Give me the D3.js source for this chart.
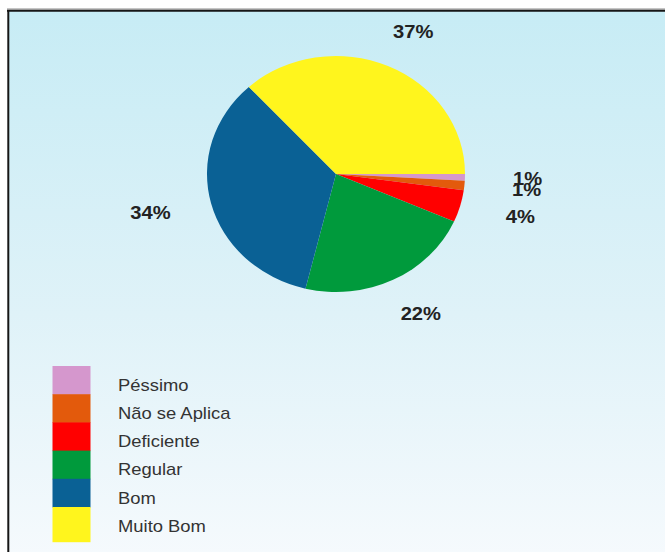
<!DOCTYPE html>
<html>
<head>
<meta charset="utf-8">
<script src="https://cdn.jsdelivr.net/npm/d3@7"></script>
<style>
  html, body { margin: 0; padding: 0; background: #ffffff; }
  svg { display: block; }
</style>
</head>
<body>
<svg id="chart" width="665" height="552"></svg>
<script>
// ---- data ----
const categories = ["Péssimo", "Não se Aplica", "Deficiente", "Regular", "Bom", "Muito Bom"];
const values = [0.9, 1.3, 4.4, 22.2, 34.4, 36.8];
const colors = ["#d597cd", "#e35a0c", "#ff0000", "#009a3c", "#0a6195", "#fff51d"];

// ---- layout ----
const W = 665, H = 552;
const svg = d3.select("#chart");

const defs = svg.append("defs");
const grad = defs.append("linearGradient").attr("id", "bg").attr("x1", 0).attr("y1", 0).attr("x2", 0).attr("y2", 1);
grad.append("stop").attr("offset", "0%").attr("stop-color", "#c7ecf5");
grad.append("stop").attr("offset", "55%").attr("stop-color", "#dff2f8");
grad.append("stop").attr("offset", "100%").attr("stop-color", "#f6fafd");

// frame
svg.append("rect").attr("x", 8).attr("y", 10).attr("width", W).attr("height", H)
  .attr("fill", "url(#bg)");
svg.append("line").attr("x1", 7).attr("x2", W).attr("y1", 9).attr("y2", 9)
  .attr("stroke", "#8a8a8a").attr("stroke-width", 1);
svg.append("line").attr("x1", 7).attr("x2", W).attr("y1", 10.8).attr("y2", 10.8)
  .attr("stroke", "#161616").attr("stroke-width", 2);
svg.append("line").attr("x1", 8.3).attr("x2", 8.3).attr("y1", 10).attr("y2", H)
  .attr("stroke", "#161616").attr("stroke-width", 2);

// pie
const cx = 336, cy = 174, r = 118, sx = 129 / 118;
const data = categories.map((c, i) => ({ name: c, value: values[i], color: colors[i] }));
const total = d3.sum(values);

const pie = d3.pie().sort(null).value(d => d.value)
  .startAngle(Math.PI / 2).endAngle(Math.PI / 2 + 2 * Math.PI);
const arcs = pie(data);
const arc = d3.arc().innerRadius(0).outerRadius(r);

const pg = svg.append("g").attr("transform", `translate(${cx},${cy}) scale(${sx},1)`);
pg.selectAll("path").data(arcs).join("path")
  .attr("d", arc)
  .attr("fill", d => d.data.color);

// labels
const lrx = 191.6, lry = 155.2;
svg.append("g").selectAll("text").data(arcs).join("text")
  .attr("transform", d => {
    const a = (d.startAngle + d.endAngle) / 2; // d3 angle: 0 = up, clockwise
    const x = cx + Math.sin(a) * lrx;
    const y = cy - Math.cos(a) * lry;
    return `translate(${x},${y}) scale(1.12,1)`;
  })
  .attr("text-anchor", "middle")
  .attr("dy", "0.36em")
  .attr("font-family", "Liberation Sans, Arial, sans-serif")
  .attr("font-weight", "bold")
  .attr("font-size", 18)
  .attr("fill", "#222222")
  .text(d => Math.round(d.data.value / total * 100) + "%");

// legend
const legY0 = 366, step = 28.2;
const lg = svg.append("g");
lg.selectAll("rect").data(data).join("rect")
  .attr("x", 52.5)
  .attr("y", (d, i) => legY0 + i * step)
  .attr("width", 38)
  .attr("height", (d, i) => i === data.length - 1 ? step + 7 : step + 0.5)
  .attr("fill", d => d.color);
lg.selectAll("text").data(data).join("text")
  .attr("transform", (d, i) => `translate(118,${legY0 + 24.7 + i * step}) scale(1.15,1)`)
  .attr("font-family", "Liberation Sans, Arial, sans-serif")
  .attr("font-size", 16)
  .attr("fill", "#333333")
  .text(d => d.name);
</script>
</body>
</html>
